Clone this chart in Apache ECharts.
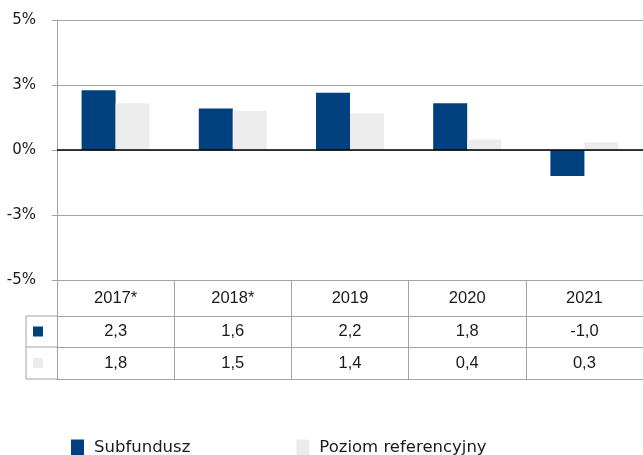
<!DOCTYPE html>
<html>
<head>
<meta charset="utf-8">
<script src="https://cdn.jsdelivr.net/npm/echarts@6/dist/echarts.min.js"></script>
<style>html,body{margin:0;padding:0;background:#fff;}#c{width:643px;height:455px;}</style>
</head>
<body>
<div id="c"></div>
<script>
const categories = ['2017*', '2018*', '2019', '2020', '2021'];
const subfundusz = [2.3, 1.6, 2.2, 1.8, -1.0];
const poziom = [1.8, 1.5, 1.4, 0.4, 0.3];
const seriesNames = ['Subfundusz', 'Poziom referencyjny'];
const yTickLabels = ['-5%', '-3%', '0%', '3%', '5%'];
const yMin = -5, yMax = 5, yStep = 2.5;

const NAVY = '#00407f';
const LIGHT = '#ececec';
const GRID = '#a3a3a3';
const TXT = '#1a1a1a';

const G = { left: 57, right: -4, top: 20, bottom: 175 };
const rowOff = [0, 36, 67, 99];

const fmt = v => v.toFixed(1).replace('.', ',');

function tableAxis(idx, labels, tickLen, margin) {
  return {
    type: 'category', data: categories, position: 'bottom', offset: rowOff[idx],
    axisLine: { show: true, onZero: false, lineStyle: { color: GRID, width: 1 } },
    axisTick: { show: tickLen > 0, length: tickLen, lineStyle: { color: GRID, width: 1 } },
    axisLabel: labels ? { show: true, margin: margin, color: TXT, fontFamily: 'Liberation Sans', fontSize: 16.5,
      formatter: (v, i) => labels[i] } : { show: false },
    splitLine: { show: false }
  };
}

const chart = echarts.init(document.getElementById('c'), null, { renderer: 'canvas' });
const option = {
  animation: false,
  backgroundColor: '#fff',
  grid: G,
  xAxis: [
    tableAxis(0, categories, 36, 10),
    tableAxis(1, subfundusz.map(fmt), 31, 7),
    tableAxis(2, poziom.map(fmt), 32, 8),
    tableAxis(3, null, 0, 0)
  ],
  yAxis: {
    type: 'value', min: yMin, max: yMax, interval: yStep,
    axisLine: { show: true, lineStyle: { color: GRID, width: 1 } },
    axisTick: { show: true, length: 5, lineStyle: { color: GRID } },
    splitLine: { show: true, lineStyle: { color: GRID, width: 1 } },
    axisLabel: { margin: 21, color: TXT, fontFamily: 'DejaVu Sans', fontSize: 15,
      formatter: v => yTickLabels[Math.round((v - yMin) / yStep)] }
  },
  legend: {
    left: 71, top: 439, padding: 0, itemWidth: 13, itemHeight: 16, itemGap: 106, icon: 'rect',
    textStyle: { color: TXT, fontFamily: 'DejaVu Sans', fontSize: 16.5, padding: [0, 0, 3, 5] },
    data: seriesNames
  },
  series: [
    { name: seriesNames[0], type: 'bar', data: subfundusz, xAxisIndex: 0, barWidth: 34, barGap: '0%',
      itemStyle: { color: NAVY },
      markLine: { silent: true, symbol: 'none', label: { show: false },
        lineStyle: { color: '#000', type: 'solid', width: 1.5 }, data: [{ yAxis: 0 }] } },
    { name: seriesNames[1], type: 'bar', data: poziom, xAxisIndex: 0, barWidth: 34, barGap: '0%',
      itemStyle: { color: LIGHT } }
  ]
};
chart.setOption(option);

// left key column of the table
const gTop = 455 - G.bottom;
const yRow1 = gTop + rowOff[1], yRow2 = gTop + rowOff[2], yRow3 = gTop + rowOff[3];
const xL = 26, xR = G.left;
const ls = { stroke: GRID, lineWidth: 1 };
chart.setOption({
  graphic: [
    { type: 'line', shape: { x1: xL, y1: yRow1, x2: xL, y2: yRow3 }, style: ls },
    { type: 'line', shape: { x1: xL, y1: yRow1, x2: xR, y2: yRow1 }, style: ls },
    { type: 'line', shape: { x1: xL, y1: yRow2, x2: xR, y2: yRow2 }, style: ls },
    { type: 'line', shape: { x1: xL, y1: yRow3, x2: xR, y2: yRow3 }, style: ls },
    { type: 'rect', shape: { x: 33, y: (yRow1 + yRow2) / 2 - 5, width: 10, height: 10 }, style: { fill: NAVY } },
    { type: 'rect', shape: { x: 33, y: (yRow2 + yRow3) / 2 - 5, width: 10, height: 10 }, style: { fill: LIGHT } }
  ]
});
</script>
</body>
</html>
